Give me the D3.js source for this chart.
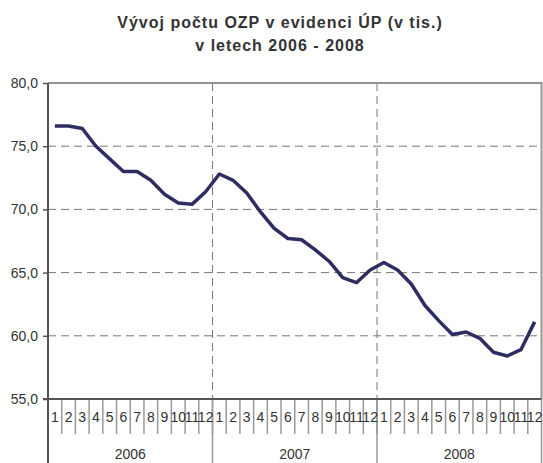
<!DOCTYPE html>
<html>
<head>
<meta charset="utf-8">
<script src="https://cdn.jsdelivr.net/npm/d3@7"></script>
<style>
  body { margin: 0; background: #fff; }
  text { font-family: "Liberation Sans", Arial, sans-serif; fill: #333; }
</style>
</head>
<body>
<div id="chart-area"></div>
<script>
// data (thousands)
var years = ["2006", "2007", "2008"];
var months = ["1","2","3","4","5","6","7","8","9","10","11","12"];
var values2006 = [76.6, 76.6, 76.4, 75.0, 74.0, 73.0, 73.0, 72.3, 71.2, 70.5, 70.4, 71.4];
var values2007 = [72.8, 72.3, 71.3, 69.8, 68.5, 67.7, 67.6, 66.8, 65.9, 64.6, 64.2, 65.2];
var values2008 = [65.8, 65.2, 64.1, 62.4, 61.2, 60.1, 60.3, 59.8, 58.7, 58.4, 58.9, 61.1];
var yTicks = [55, 60, 65, 70, 75, 80];

var margin = { left: 48, right: 1.5, top: 83, bottom: 64 },
    width = 543 - margin.left - margin.right,
    height = 463 - margin.top - margin.bottom;

var svg = d3.select("#chart-area")
    .append("svg")
    .attr("width", 543)
    .attr("height", 463);

// Title
var title = svg.append("text")
    .attr("x", 280)
    .attr("y", 28)
    .attr("text-anchor", "middle")
    .attr("font-size", "16px")
    .attr("font-weight", "bold")
    .attr("letter-spacing", "1px");
title.append("tspan").attr("x", 280).text("Vývoj počtu OZP v evidenci ÚP (v tis.)");
title.append("tspan").attr("x", 280).attr("dy", 23).text("v letech 2006 - 2008");

var g = svg.append("g")
    .attr("transform", "translate(" + margin.left + "," + margin.top + ")");

// build rows
var data = [];
[values2006, values2007, values2008].forEach(function(arr, yi) {
    arr.forEach(function(v, mi) {
        data.push({ key: years[yi] + "-" + months[mi], year: years[yi], month: months[mi], value: v });
    });
});

// Scales
var x = d3.scaleBand()
    .domain(data.map(function(d) { return d.key; }))
    .range([0, width]);
var xYear = d3.scaleBand()
    .domain(years)
    .range([0, width]);
var y = d3.scaleLinear()
    .domain([55, 80])
    .range([height, 0]);

// horizontal grid
g.selectAll(".hgrid")
    .data(yTicks.filter(function(t) { return t > 55 && t < 80; }))
    .enter().append("line")
    .attr("class", "hgrid")
    .attr("x1", 0).attr("x2", width)
    .attr("y1", function(d) { return y(d); })
    .attr("y2", function(d) { return y(d); })
    .attr("stroke", "#777")
    .attr("stroke-dasharray", "8,5");

// vertical year grid (dashed inside plot)
g.selectAll(".vgrid")
    .data(years.slice(1))
    .enter().append("line")
    .attr("class", "vgrid")
    .attr("x1", function(d) { return xYear(d); })
    .attr("x2", function(d) { return xYear(d); })
    .attr("y1", 0).attr("y2", height)
    .attr("stroke", "#777")
    .attr("stroke-dasharray", "8,5");

// top and right border
g.append("path")
    .attr("d", "M0,0H" + width + "V" + height)
    .attr("fill", "none")
    .attr("stroke", "#9a9290")
    .attr("stroke-width", 2);

// month ticks below axis
g.selectAll(".mtick")
    .data(data.slice(1))
    .enter().append("line")
    .attr("class", "mtick")
    .attr("x1", function(d) { return x(d.key); })
    .attr("x2", function(d) { return x(d.key); })
    .attr("y1", height).attr("y2", height + 35)
    .attr("stroke", "#999")
    .attr("stroke-width", 1.5);

// year separators below axis
g.selectAll(".ysep")
    .data(years.concat(["end"]))
    .enter().append("line")
    .attr("class", "ysep")
    .attr("x1", function(d) { return d === "end" ? width : xYear(d); })
    .attr("x2", function(d) { return d === "end" ? width : xYear(d); })
    .attr("y1", height).attr("y2", height + margin.bottom)
    .attr("stroke", "#999")
    .attr("stroke-width", 1.5);

// month labels
g.selectAll(".mlabel")
    .data(data)
    .enter().append("text")
    .attr("class", "mlabel")
    .attr("x", function(d) { return x(d.key) + x.bandwidth() / 2; })
    .attr("y", height + 23)
    .attr("text-anchor", "middle")
    .attr("font-size", "14px")
    .text(function(d) { return d.month; });

// year labels
g.selectAll(".ylabel")
    .data(years)
    .enter().append("text")
    .attr("class", "ylabel")
    .attr("x", function(d) { return xYear(d) + xYear.bandwidth() / 2; })
    .attr("y", height + 60)
    .attr("text-anchor", "middle")
    .attr("font-size", "14px")
    .text(function(d) { return d; });

// Y axis
var fmt = function(d) { return d3.format(".1f")(d).replace(".", ","); };
var yAxis = g.append("g")
    .call(d3.axisLeft(y).tickValues(yTicks).tickSize(5).tickPadding(5).tickFormat(fmt));
yAxis.select(".domain").remove();
yAxis.selectAll(".tick line").attr("stroke", "#555").attr("stroke-width", 1.5);
yAxis.selectAll(".tick text")
    .attr("font-size", "14px")
    .attr("font-family", "Liberation Sans, Arial, sans-serif")
    .attr("fill", "#333");

// left and bottom axis lines
g.append("line")
    .attr("x1", 0).attr("x2", 0)
    .attr("y1", 0).attr("y2", height + margin.bottom)
    .attr("stroke", "#5a5252").attr("stroke-width", 2);
g.append("line")
    .attr("x1", -5).attr("x2", width)
    .attr("y1", height).attr("y2", height)
    .attr("stroke", "#5a5252").attr("stroke-width", 2);

// the line
var line = d3.line()
    .x(function(d) { return x(d.key) + x.bandwidth() / 2; })
    .y(function(d) { return y(d.value); });

g.append("path")
    .attr("class", "line")
    .attr("d", line(data))
    .attr("fill", "none")
    .attr("stroke", "#2e2d62")
    .attr("stroke-width", 3.5)
    .attr("stroke-linejoin", "round");
</script>
</body>
</html>
